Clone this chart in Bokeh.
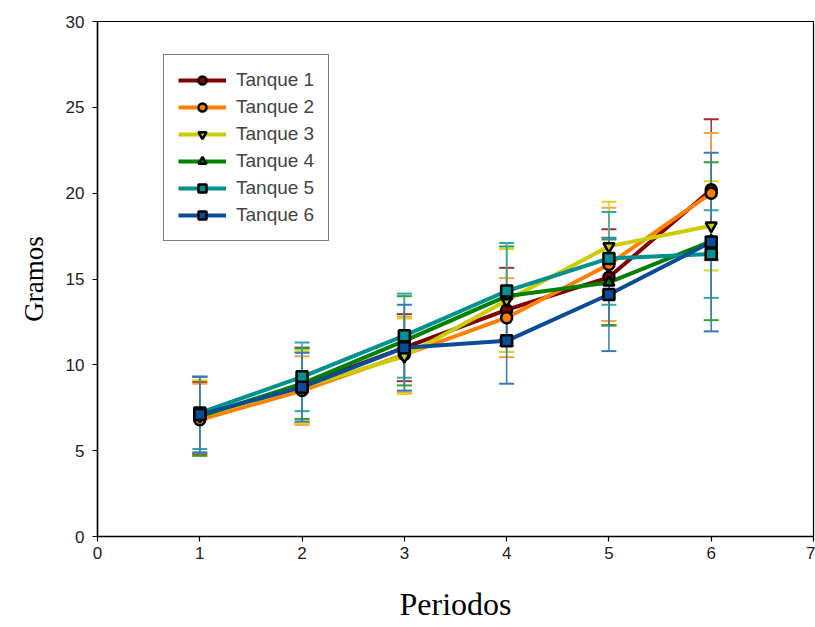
from bokeh.plotting import figure
from bokeh.models import ColumnDataSource, Whisker, TeeHead, Legend, LegendItem, Range1d, FixedTicker
from bokeh.embed import file_html
from bokeh.resources import INLINE

periods = [1, 2, 3, 4, 5, 6]
names = ["Tanque 1", "Tanque 2", "Tanque 3", "Tanque 4", "Tanque 5", "Tanque 6"]
t1 = [6.9, 8.8, 11.0, 13.2, 15.1, 20.2]
t2 = [6.8, 8.5, 10.6, 12.75, 15.85, 20.0]
t3 = [7.0, 8.7, 10.5, 13.75, 16.9, 18.1]
t4 = [7.0, 8.9, 11.4, 14.0, 14.8, 17.2]
t5 = [7.2, 9.3, 11.7, 14.3, 16.2, 16.45]
t6 = [7.1, 8.7, 11.0, 11.4, 14.1, 17.15]
e1 = [2.1, 2.2, 1.95, 2.45, 2.8, 4.1]
e2 = [2.1, 2.0, 2.2, 2.3, 3.3, 3.5]
e3 = [2.1, 2.1, 2.2, 3.0, 2.6, 2.6]
e4 = [2.3, 2.05, 2.6, 2.9, 2.5, 4.6]
e5 = [2.1, 2.0, 2.45, 2.8, 2.7, 2.55]
e6 = [2.2, 2.0, 2.5, 2.5, 3.3, 5.2]
means = [t1, t2, t3, t4, t5, t6]
errs = [e1, e2, e3, e4, e5, e6]
colors = ["#800000", "#FF8000", "#CCCC00", "#008000", "#009090", "#0A4C96"]
bar_colors = ["#A03030", "#FFA040", "#D8D820", "#30A030", "#30A8A8", "#3A78B8"]
markers = ["circle", "circle", "inverted_triangle", "triangle", "square", "square"]
x_ticks = [0, 1, 2, 3, 4, 5, 6, 7]
y_ticks = [0, 5, 10, 15, 20, 25, 30]

p = figure(width=815, height=627, output_backend="svg", toolbar_location=None,
           x_range=Range1d(0, 7), y_range=Range1d(0, 30),
           min_border_left=97, min_border_right=2, min_border_top=21, min_border_bottom=91)
p.xgrid.visible = False
p.ygrid.visible = False
p.outline_line_color = "black"
p.outline_line_width = 1.2

for ax in (p.xaxis, p.yaxis):
    ax.axis_line_color = "black"
    ax.axis_line_width = 1.5
    ax.major_tick_line_color = "black"
    ax.major_tick_line_width = 1.2
    ax.major_tick_in = 0
    ax.major_tick_out = 5
    ax.minor_tick_line_color = None
    ax.major_label_text_font = "Liberation Sans"
    ax.major_label_text_font_size = "17px"
    ax.major_label_text_color = "#222222"
    ax.axis_label_text_font = "Liberation Serif"
    ax.axis_label_text_font_style = "normal"
    ax.axis_label_text_color = "black"

p.xaxis.axis_label_text_font_size = "32px"
p.yaxis.axis_label_text_font_size = "27px"
p.xaxis.ticker = FixedTicker(ticks=x_ticks)
p.yaxis.ticker = FixedTicker(ticks=y_ticks)
p.xaxis.axis_label = "Periodos"
p.yaxis.axis_label = "Gramos"
p.xaxis.major_label_standoff = 5
p.yaxis.major_label_standoff = 8
p.xaxis.axis_label_standoff = 24
p.yaxis.axis_label_standoff = 14

sources = []
for m, e in zip(means, errs):
    sources.append(ColumnDataSource(dict(
        x=periods, y=m,
        upper=[a + b for a, b in zip(m, e)],
        lower=[a - b for a, b in zip(m, e)])))

for src, bc in zip(sources, bar_colors):
    w = Whisker(source=src, base="x", upper="upper", lower="lower",
                line_color=bc, line_width=1.5,
                upper_head=TeeHead(size=15, line_color=bc, line_width=2),
                lower_head=TeeHead(size=15, line_color=bc, line_width=2))
    p.add_layout(w)

items = []
line_rs = []
for src, c in zip(sources, colors):
    line_rs.append(p.line("x", "y", source=src, line_color=c, line_width=4))
for src, c, mk, name, lr in zip(sources, colors, markers, names, line_rs):
    sr = p.scatter("x", "y", source=src, marker=mk, size=11, fill_color=c,
                   line_color="black", line_width=2.5)
    items.append(LegendItem(label=name, renderers=[lr, sr]))

legend = Legend(items=items, location=(66, 295), border_line_color="black",
                border_line_width=1.2, padding=14, spacing=5, glyph_width=48,
                glyph_height=20, label_standoff=10, label_text_font="Liberation Sans",
                label_text_font_size="19px", label_height=20, margin=0,
                background_fill_color="white")
p.add_layout(legend, "center")

open("out.html", "w").write(file_html(p, INLINE))
